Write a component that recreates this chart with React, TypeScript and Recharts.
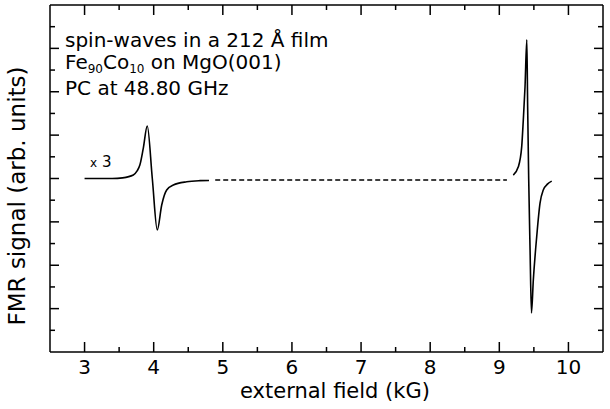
import { LineChart, Line, XAxis, YAxis } from 'recharts';

// low-field mode (shown x3)
const leftField = [3.0, 3.2, 3.4, 3.55, 3.705, 3.76, 3.8, 3.85, 3.907, 3.98, 4.052, 4.116, 4.188, 4.284, 4.478, 4.67, 4.8];
const leftSignal = [0, 0, 0, 0.03, 0.16, 0.35, 0.62, 1.4, 2.42, 0.0, -2.37, -1.22, -0.53, -0.3, -0.15, -0.1, -0.09];

// dashed baseline between the two modes
const dashField = [4.89, 9.11];
const dashSignal = [-0.07, -0.07];

// uniform mode
const rightField = [9.202, 9.275, 9.324, 9.347, 9.372, 9.398, 9.41, 9.425, 9.445, 9.465, 9.492, 9.541, 9.589, 9.636, 9.7, 9.758];
const rightSignal = [0.16, 0.54, 1.47, 2.7, 4.23, 6.39, 3.3, 0.0, -3.3, -6.2, -4.68, -2.68, -1.14, -0.53, -0.25, -0.12];

const xTicks = [3, 3.5, 4, 4.5, 5, 5.5, 6, 6.5, 7, 7.5, 8, 8.5, 9, 9.5, 10];
const yTicks = [-7, -6, -5, -4, -3, -2, -1, 0, 1, 2, 3, 4, 5, 6, 7];

const FONT = 'DejaVu Sans';
const INK = '#000';

const toPoints = (xs: number[], ys: number[]) => xs.map((f, i) => ({ field: f, signal: ys[i] }));

const leftData = toPoints(leftField, leftSignal);
const dashData = toPoints(dashField, dashSignal);
const rightData = toPoints(rightField, rightSignal);

const isMajorX = (v: number) => Number.isInteger(v);
const isMajorY = (v: number) => v % 2 === 0;

function BottomTick({ x, y, payload }: any) {
  const major = isMajorX(payload.value);
  return (
    <g>
      <line x1={x} x2={x} y1={y} y2={y - (major ? 10 : 5)} stroke={INK} strokeWidth={1.5} />
      {major && (
        <text x={x} y={y + 22} textAnchor="middle" fontFamily={FONT} fontSize={20} fill={INK}>
          {payload.value}
        </text>
      )}
    </g>
  );
}

function TopTick({ x, y, payload }: any) {
  const major = isMajorX(payload.value);
  return <line x1={x} x2={x} y1={y} y2={y + (major ? 10 : 5)} stroke={INK} strokeWidth={1.5} />;
}

function LeftTick({ x, y, payload }: any) {
  const major = isMajorY(payload.value);
  return <line x1={x} x2={x + (major ? 9 : 5)} y1={y} y2={y} stroke={INK} strokeWidth={1.5} />;
}

function RightTick({ x, y, payload }: any) {
  const major = isMajorY(payload.value);
  return <line x1={x} x2={x - (major ? 9 : 5)} y1={y} y2={y} stroke={INK} strokeWidth={1.5} />;
}

const frame = { stroke: INK, strokeWidth: 1.5 };

export default function App() {
  return (
    <div style={{ position: 'absolute', left: 0, top: 0, width: 610, height: 409, background: '#fff' }}>
      <LineChart width={610} height={409} margin={{ top: 4, right: 6, bottom: 56, left: 49 }}>
        <XAxis
          xAxisId={0}
          type="number"
          dataKey="field"
          domain={[2.5, 10.5]}
          ticks={xTicks}
          interval={0}
          height={1}
          tickSize={0}
          tickMargin={0}
          tickLine={false}
          axisLine={frame}
          tick={(p: any) => <BottomTick {...p} />}
          allowDataOverflow
        />
        <XAxis
          xAxisId="top"
          orientation="top"
          type="number"
          dataKey="field"
          domain={[2.5, 10.5]}
          ticks={xTicks}
          interval={0}
          height={1}
          tickSize={0}
          tickMargin={0}
          tickLine={false}
          axisLine={frame}
          tick={(p: any) => <TopTick {...p} />}
          allowDataOverflow
        />
        <YAxis
          yAxisId={0}
          type="number"
          domain={[-8, 8]}
          ticks={yTicks}
          interval={0}
          width={1}
          tickSize={0}
          tickMargin={0}
          tickLine={false}
          axisLine={frame}
          tick={(p: any) => <LeftTick {...p} />}
          allowDataOverflow
        />
        <YAxis
          yAxisId="right"
          orientation="right"
          type="number"
          domain={[-8, 8]}
          ticks={yTicks}
          interval={0}
          width={1}
          tickSize={0}
          tickMargin={0}
          tickLine={false}
          axisLine={frame}
          tick={(p: any) => <RightTick {...p} />}
          allowDataOverflow
        />
        <Line data={leftData} dataKey="signal" type="monotone" stroke={INK} strokeWidth={1.6} dot={false} isAnimationActive={false} />
        <Line data={dashData} dataKey="signal" type="linear" stroke={INK} strokeWidth={1.5} strokeDasharray="5 3" dot={false} isAnimationActive={false} />
        <Line data={rightData} dataKey="signal" type="monotone" stroke={INK} strokeWidth={1.6} dot={false} isAnimationActive={false} />
      </LineChart>

      <svg width={610} height={409} style={{ position: 'absolute', left: 0, top: 0, pointerEvents: 'none' }}>
        <g fontFamily={FONT} fill={INK} fontSize={20}>
          <text x={65} y={47}>spin-waves in a 212 Å film</text>
          <text x={65} y={69}>
            Fe<tspan fontSize={12} dy={4}>90</tspan>
            <tspan dy={-4}>Co</tspan>
            <tspan fontSize={12} dy={4}>10</tspan>
            <tspan dy={-4}>{' on MgO(001)'}</tspan>
          </text>
          <text x={65} y={95}>PC at 48.80 GHz</text>
          <text x={90} y={167} fontSize={15}>
            <tspan fontSize={12}>x</tspan>
            {' 3'}
          </text>
          <text x={335} y={398} textAnchor="middle" fontSize={21}>external field (kG)</text>
          <text x={25} y={196} textAnchor="middle" fontSize={23} transform="rotate(-90 25 196)">
            FMR signal (arb. units)
          </text>
        </g>
      </svg>
    </div>
  );
}
